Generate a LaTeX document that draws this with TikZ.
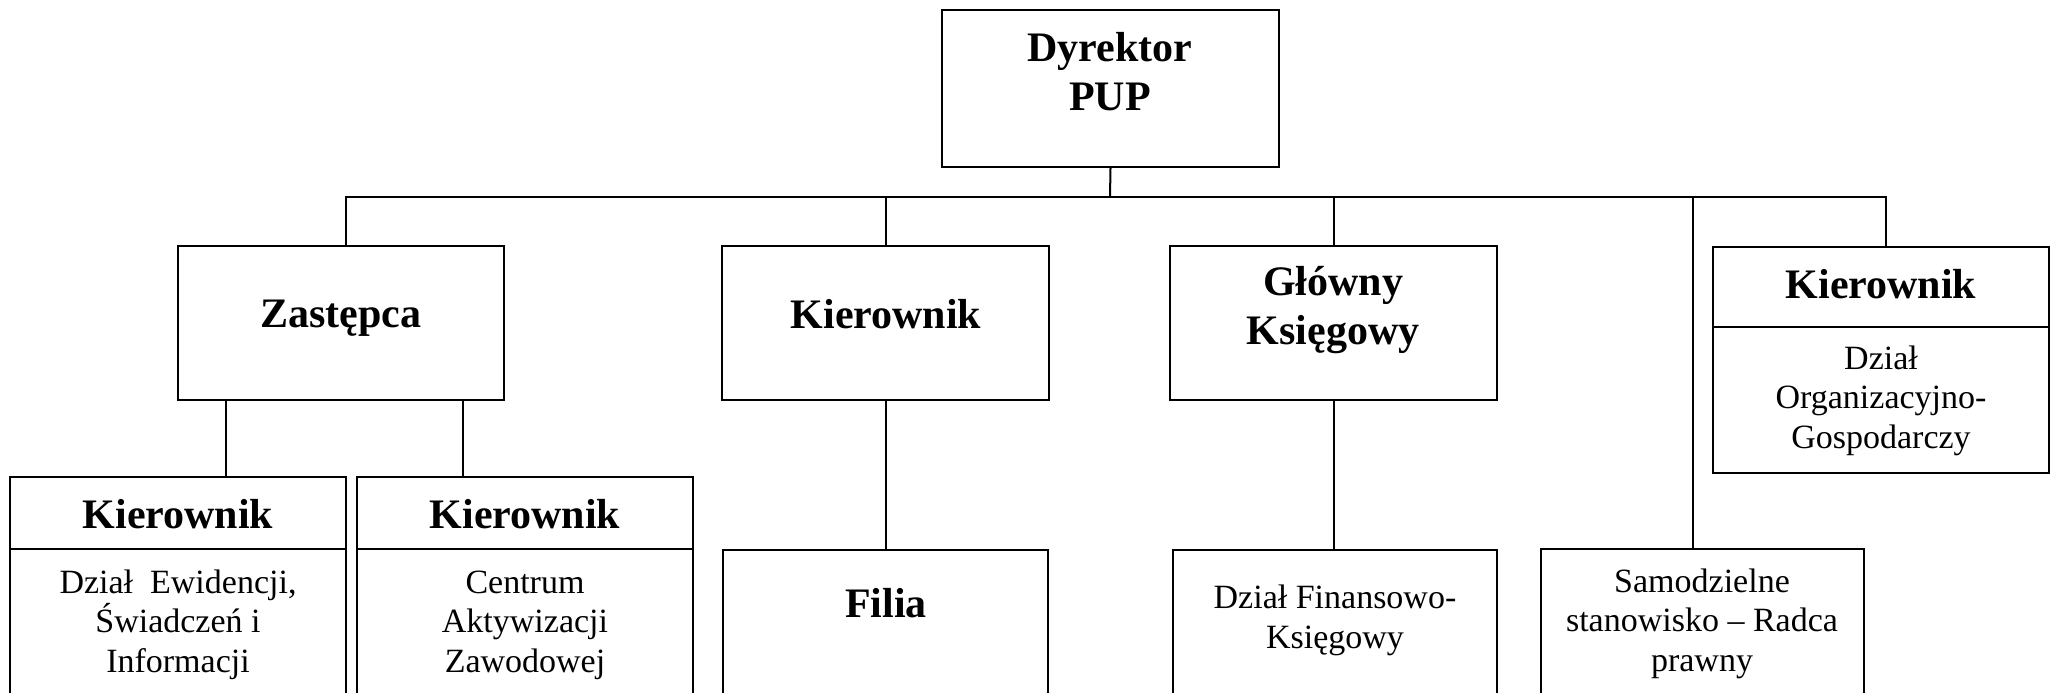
\documentclass[tikz,border=0pt]{standalone}
\usepackage{fontspec}
\setmainfont{Liberation Serif}
\usetikzlibrary{fit}

\begin{document}
\begin{tikzpicture}[x=0.5pt,y=-0.5pt,line width=1pt,
    box/.style={draw,inner sep=0pt},
    head/.style={font=\bfseries\fontsize{21pt}{24.5pt}\selectfont,align=center,anchor=base,inner sep=0pt},
    body/.style={font=\fontsize{17pt}{19.75pt}\selectfont,align=center,anchor=base,inner sep=0pt}]
  \useasboundingbox (0,0) rectangle (2051,692);
  \clip (0,0) rectangle (2051,692);
  % boxes
  \node[box,fit={(942,10) (1279,167)}] (dyr) {};
  \node[box,fit={(178,246) (504,400)}] (zast) {};
  \node[box,fit={(722,246) (1049,400)}] (kier) {};
  \node[box,fit={(1170,246) (1497,400)}] (glow) {};
  \node[box,fit={(1713,247) (2049,327)}] (orgh) {};
  \node[box,fit={(1713,327) (2049,473)}] (orgb) {};
  \node[box,fit={(10,477) (346,549)}] (ewidh) {};
  \node[box,fit={(10,549) (346,720)}] (ewidb) {};
  \node[box,fit={(357,477) (693,549)}] (centh) {};
  \node[box,fit={(357,549) (693,720)}] (centb) {};
  \node[box,fit={(723,550) (1048,720)}] (filia) {};
  \node[box,fit={(1173,550) (1497,720)}] (finan) {};
  \node[box,fit={(1541,549) (1864,720)}] (samo) {};
  % texts (multi-line ones sit on the baseline of their last line)
  \node[head] (tdyr) at (1110,110) {Dyrektor\\PUP};
  \node[head] (tzast) at (341,327) {Zastępca};
  \node[head] (tkier) at (886,328) {Kierownik};
  \node[head] (tglow) at (1333,344) {Główny\\Księgowy};
  \node[head] (torgh) at (1881,298) {Kierownik};
  \node[body] (torgb) at (1881,448) {Dział\\Organizacyjno-\\Gospodarczy};
  \node[head] (tewidh) at (178,528) {Kierownik};
  \node[body] (tewidb) at (178,672) {Dział~~Ewidencji,\\Świadczeń i\\Informacji};
  \node[head] (tcenth) at (525,528) {Kierownik};
  \node[body] (tcentb) at (525,672) {Centrum\\Aktywizacji\\Zawodowej};
  \node[head] (tfilia) at (886,617) {Filia};
  \node[body] (tfinan) at (1335,648) {Dział Finansowo-\\Księgowy};
  \node[body] (tsamo) at (1702,671) {Samodzielne\\stanowisko – Radca\\prawny};
  % connectors
  \coordinate (bus) at (1110,197);
  \draw (dyr.south) -- (bus);
  \draw ([xshift=2.5pt]zast.north) -- ([xshift=2.5pt]zast.north |- bus)
    -- ([xshift=2.5pt]orgh.north |- bus) -- ([xshift=2.5pt]orgh.north);
  \draw (kier.north) -- (kier.north |- bus);
  \draw (glow.north) -- (glow.north |- bus);
  \draw ([xshift=-4.75pt]samo.north) -- ([xshift=-4.75pt]samo.north |- bus);
  \draw ([xshift=24pt]ewidh.north |- zast.south) -- ([xshift=24pt]ewidh.north);
  \draw ([xshift=-31pt]centh.north |- zast.south) -- ([xshift=-31pt]centh.north);
  \draw (kier.south) -- (kier.south |- filia.north);
  \draw (glow.south) -- (glow.south |- finan.north);
\end{tikzpicture}
\end{document}
